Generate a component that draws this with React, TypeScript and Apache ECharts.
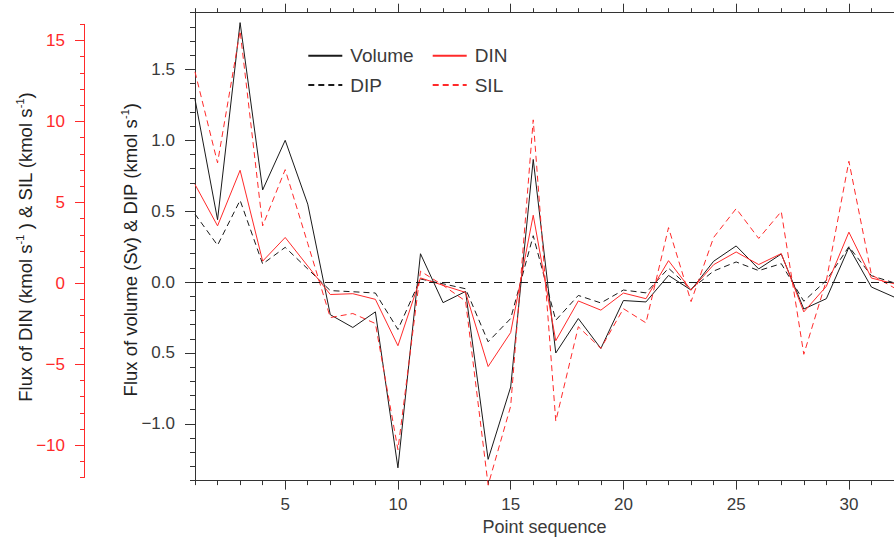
import React, { useEffect, useRef } from 'react';
import * as echarts from 'echarts';

// ---- data ----
const POINTS = [1, 2, 3, 4, 5, 6, 7, 8, 9, 10, 11, 12, 13, 14, 15, 16, 17, 18, 19, 20, 21, 22, 23, 24, 25, 26, 27, 28, 29, 30, 31, 32];
const VOLUME = [1.29, 0.44, 1.83, 0.65, 1.0, 0.55, -0.23, -0.32, -0.21, -1.31, 0.2, -0.145, -0.066, -1.25, -0.74, 0.865, -0.5, -0.257, -0.468, -0.13, -0.14, 0.047, -0.056, 0.147, 0.255, 0.093, 0.198, -0.19, -0.117, 0.245, -0.035, -0.105];
const DIP = [0.48, 0.26, 0.577, 0.128, 0.245, 0.093, -0.06, -0.068, -0.077, -0.334, 0.022, -0.012, -0.047, -0.421, -0.257, 0.327, -0.269, -0.094, -0.147, -0.056, -0.076, 0.098, -0.05, 0.078, 0.142, 0.081, 0.13, -0.135, 0.012, 0.25, 0.045, -0.005];
const DIN = [6.06, 3.49, 6.94, 1.3, 2.77, 1.0, -0.77, -0.72, -1.07, -3.95, 0.26, -0.2, -0.64, -5.24, -3.13, 4.15, -3.64, -1.17, -1.74, -0.68, -1.03, 1.33, -0.5, 1.08, 1.87, 1.09, 1.77, -1.85, -0.26, 3.1, 0.25, -0.1];
const SIL = [13.05, 7.4, 15.6, 3.49, 6.98, 2.4, -2.2, -1.95, -2.57, -10.4, 0.68, -0.2, -1.18, -12.6, -7.7, 10.07, -8.63, -2.77, -4.11, -1.65, -2.53, 3.38, -1.21, 2.77, 4.56, 2.71, 4.38, -4.48, 0.1, 7.5, 0.45, -0.35];

const X_MAJOR = [5, 10, 15, 20, 25, 30];
const Y_MAJOR = [-1.0, -0.5, 0.0, 0.5, 1.0, 1.5];
const Y_LABELS = ['\u22121.0', '0.5', '0.0', '0.5', '1.0', '1.5'];
const RED_MAJOR = [-10, -5, 0, 5, 10, 15];
const RED_LABELS = ['\u221210', '\u22125', '0', '5', '10', '15'];

const SERIES_NAMES = ['Volume', 'DIN', 'DIP', 'SIL'];

// ---- layout constants ----
const W = 894;
const H = 541;
const Y_MIN = -1.4;
const Y_MAX = 1.9;
const RED_RATIO = 8.8;
const RED_MIN = -12;
const RED_MAX = 16;
const GRID_TOP = 12.7;
const GRID_BOTTOM_Y = 482.7;
const GRID_LEFT = 195;
const RED_AXIS_X = 84.3;
const FONT = '"Liberation Sans", Arial, Helvetica, sans-serif';
const AXIS_COLOR = '#333';
const TEXT_COLOR = '#3a3a3a';
const RED = '#ff2a2a';
const BLACK = '#1a1a1a';

export default function App() {
  const ref = useRef<HTMLDivElement>(null);

  useEffect(() => {
    if (!ref.current) return;
    const chart = echarts.init(ref.current, undefined, { renderer: 'svg' });

    const gridH = GRID_BOTTOM_Y - GRID_TOP;
    const pxPerBlack = gridH / (Y_MAX - Y_MIN);
    const redTopY = GRID_TOP + (Y_MAX - RED_MAX / RED_RATIO) * pxPerBlack;
    const redBottomY = GRID_TOP + (Y_MAX - RED_MIN / RED_RATIO) * pxPerBlack;

    const yMinor: number[] = [];
    for (let k = -14; k <= 19; k++) yMinor.push(k / 10);
    const redMinor: number[] = [];
    for (let k = RED_MIN; k <= RED_MAX; k++) redMinor.push(k);
    const xMinor: number[] = [];
    for (let k = 1; k <= 32; k++) xMinor.push(k);

    const pairs = (arr: number[]) => POINTS.map((x, i) => [x, arr[i]]);

    const labelStyle = { fontFamily: FONT, fontSize: 17, color: TEXT_COLOR };
    const axisLineStyle = { show: true, onZero: false, lineStyle: { color: AXIS_COLOR, width: 1 } };
    const noLine = { show: false, onZero: false };

    const legendBase = {
      orient: 'vertical', top: 45.7,
      itemWidth: 34, itemHeight: 14, itemGap: 9.3, padding: 0,
      itemStyle: { opacity: 0, borderWidth: 0 },
      textStyle: { fontFamily: FONT, fontSize: 19, color: TEXT_COLOR, lineHeight: 20, padding: [0, 0, 0, 3] },
    };

    const option: any = {
      animation: false,
      backgroundColor: '#fff',
      textStyle: { fontFamily: FONT },
      grid: [
        { left: GRID_LEFT, top: GRID_TOP, right: 0, bottom: H - GRID_BOTTOM_Y, containLabel: false },
        { left: RED_AXIS_X, width: 1, top: redTopY, bottom: H - redBottomY, containLabel: false },
      ],
      xAxis: [
        {
          gridIndex: 0, type: 'value', position: 'bottom', min: 1, max: 32, interval: 1,
          axisLine: axisLineStyle,
          axisTick: { show: true, length: 4.5, customValues: xMinor, lineStyle: { color: AXIS_COLOR } },
          axisLabel: { show: false },
          splitLine: { show: false },
        },
        {
          gridIndex: 0, type: 'value', position: 'bottom', min: 1, max: 32,
          axisLine: noLine,
          axisTick: { show: true, length: 9, customValues: X_MAJOR, lineStyle: { color: AXIS_COLOR } },
          axisLabel: { show: true, customValues: X_MAJOR, margin: 15.5, ...labelStyle, formatter: (v: number) => String(v) },
          splitLine: { show: false },
          name: 'Point sequence', nameLocation: 'middle', nameGap: 37,
          nameTextStyle: { fontFamily: FONT, fontSize: 18, color: TEXT_COLOR },
        },
        {
          gridIndex: 0, type: 'value', position: 'top', min: 1, max: 32, interval: 1,
          axisLine: axisLineStyle,
          axisTick: { show: true, length: 4.5, customValues: xMinor, lineStyle: { color: AXIS_COLOR } },
          axisLabel: { show: false },
          splitLine: { show: false },
        },
        {
          gridIndex: 0, type: 'value', position: 'top', min: 1, max: 32,
          axisLine: noLine,
          axisTick: { show: true, length: 9, customValues: X_MAJOR, lineStyle: { color: AXIS_COLOR } },
          axisLabel: { show: false },
          splitLine: { show: false },
        },
        {
          gridIndex: 1, type: 'value', min: 0, max: 1, show: false,
        },
      ],
      yAxis: [
        {
          gridIndex: 0, type: 'value', position: 'left', min: Y_MIN, max: Y_MAX,
          axisLine: axisLineStyle,
          axisTick: { show: true, length: 10, customValues: Y_MAJOR, lineStyle: { color: AXIS_COLOR } },
          axisLabel: {
            show: true, customValues: Y_MAJOR, margin: 20, ...labelStyle,
            formatter: (v: number) => {
              const idx = Y_MAJOR.findIndex((m) => Math.abs(m - v) < 1e-6);
              return idx >= 0 ? Y_LABELS[idx] : '';
            },
          },
          splitLine: { show: false },
        },
        {
          gridIndex: 0, type: 'value', position: 'left', min: Y_MIN, max: Y_MAX,
          axisLine: noLine,
          axisTick: { show: true, length: 5, customValues: yMinor, lineStyle: { color: AXIS_COLOR } },
          axisLabel: { show: false },
          splitLine: { show: false },
        },
        {
          gridIndex: 0, type: 'value', position: 'right', min: Y_MIN * RED_RATIO, max: Y_MAX * RED_RATIO,
          show: false,
        },
        {
          gridIndex: 1, type: 'value', position: 'left', min: RED_MIN, max: RED_MAX,
          axisLine: { show: true, onZero: false, lineStyle: { color: RED, width: 1 } },
          axisTick: { show: true, length: 9.3, customValues: RED_MAJOR, lineStyle: { color: RED } },
          axisLabel: {
            show: true, customValues: RED_MAJOR, margin: 19.3, fontFamily: FONT, fontSize: 17, color: RED,
            formatter: (v: number) => {
              const idx = RED_MAJOR.findIndex((m) => Math.abs(m - v) < 1e-6);
              return idx >= 0 ? RED_LABELS[idx] : '';
            },
          },
          splitLine: { show: false },
        },
        {
          gridIndex: 1, type: 'value', position: 'left', min: RED_MIN, max: RED_MAX,
          axisLine: noLine,
          axisTick: { show: true, length: 4.3, customValues: redMinor, lineStyle: { color: RED } },
          axisLabel: { show: false },
          splitLine: { show: false },
        },
      ],
      legend: [
        { ...legendBase, data: [SERIES_NAMES[0], SERIES_NAMES[2]], left: 307.3 },
        { ...legendBase, data: [SERIES_NAMES[1], SERIES_NAMES[3]], left: 431.7 },
      ],
      series: [
        {
          name: SERIES_NAMES[0], type: 'line', xAxisIndex: 0, yAxisIndex: 0, data: pairs(VOLUME),
          symbol: 'none', lineStyle: { color: BLACK, width: 1 }, itemStyle: { color: BLACK }, clip: false,
          markLine: {
            silent: true, symbol: 'none', label: { show: false },
            lineStyle: { color: BLACK, width: 1, type: [8, 5] },
            data: [{ yAxis: 0 }],
          },
        },
        {
          name: SERIES_NAMES[2], type: 'line', xAxisIndex: 0, yAxisIndex: 0, data: pairs(DIP),
          symbol: 'none', lineStyle: { color: BLACK, width: 1, type: [6, 4] }, itemStyle: { color: BLACK }, clip: false,
        },
        {
          name: SERIES_NAMES[1], type: 'line', xAxisIndex: 0, yAxisIndex: 2, data: pairs(DIN),
          symbol: 'none', lineStyle: { color: RED, width: 1 }, itemStyle: { color: RED }, clip: false,
        },
        {
          name: SERIES_NAMES[3], type: 'line', xAxisIndex: 0, yAxisIndex: 2, data: pairs(SIL),
          symbol: 'none', lineStyle: { color: RED, width: 1, type: [6, 4] }, itemStyle: { color: RED }, clip: false,
        },
      ],
      graphic: [
        {
          type: 'text', x: 130, y: 249.8, rotation: Math.PI / 2,
          style: {
            text: '{a|Flux of volume (Sv) & DIP (kmol s}{s|-1}{a|)}',
            align: 'center', verticalAlign: 'middle',
            rich: {
              a: { fontFamily: FONT, fontSize: 18.5, fill: '#222', lineHeight: 22 },
              s: { fontFamily: FONT, fontSize: 11, fill: '#222', verticalAlign: 'top', lineHeight: 22 },
            },
          },
        },
        {
          type: 'text', x: 25, y: 247, rotation: Math.PI / 2,
          style: {
            text: '{a|Flux of DIN (kmol s}{s|-1}{a| ) & SIL (kmol s}{s|-1}{a|)}',
            align: 'center', verticalAlign: 'middle',
            rich: {
              a: { fontFamily: FONT, fontSize: 18.5, fill: '#222', lineHeight: 22 },
              s: { fontFamily: FONT, fontSize: 11, fill: '#222', verticalAlign: 'top', lineHeight: 22 },
            },
          },
        },
      ],
    };

    chart.setOption(option);
    return () => chart.dispose();
  }, []);

  return (
    <div
      ref={ref}
      style={{ position: 'fixed', left: 0, top: 0, width: W, height: H, background: '#fff' }}
    />
  );
}
